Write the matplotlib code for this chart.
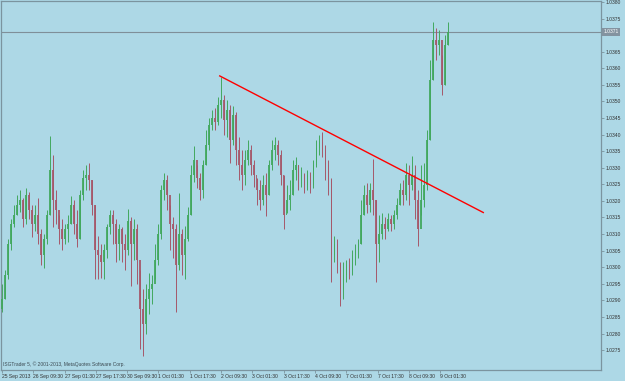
import numpy as np
import matplotlib
matplotlib.use("Agg")
import matplotlib.pyplot as plt
import matplotlib.transforms as mtransforms

# candles (close / high / low), one per bar
closes = [1.02903, 1.02978, 1.03069, 1.03129, 1.03159, 1.03189, 1.03204, 1.03144, 1.03219, 1.03174,
          1.03129, 1.03159, 1.03099, 1.03038, 1.03084, 1.03159, 1.03294, 1.03204, 1.03174, 1.03114,
          1.03084, 1.03114, 1.03129, 1.03189, 1.03129, 1.03084, 1.03219, 1.03270, 1.03279, 1.03264,
          1.03189, 1.03053, 1.03038, 1.03017, 1.03053, 1.03120, 1.03159, 1.03129, 1.03069, 1.03114,
          1.03069, 1.03053, 1.03138, 1.03069, 1.03114, 1.03023, 1.02873, 1.02828, 1.02903, 1.02933,
          1.02948, 1.03023, 1.03099, 1.03234, 1.03264, 1.03219, 1.03129, 1.03114, 1.03008, 1.03099,
          1.03038, 1.03084, 1.03159, 1.03279, 1.03324, 1.03270, 1.03234, 1.03309, 1.03370, 1.03430,
          1.03451, 1.03439, 1.03490, 1.03505, 1.03445, 1.03475, 1.03385, 1.03460, 1.03355, 1.03309,
          1.03279, 1.03324, 1.03355, 1.03309, 1.03279, 1.03234, 1.03204, 1.03249, 1.03219, 1.03309,
          1.03355, 1.03370, 1.03339, 1.03279, 1.03159, 1.03204, 1.03219, 1.03294, 1.03309, 1.03264,
          1.03279, 1.03249, 1.03279, 1.03249, 1.03309, 1.03361, 1.03379, 1.03355, 1.03309, 1.03264,
          1.03038, 1.03069, 1.03008, 1.02933, 1.02978, 1.03008, 1.02993, 1.03038, 1.03053, 1.03069,
          1.03159, 1.03219, 1.03189, 1.03234, 1.03204, 1.03069, 1.03099, 1.03129, 1.03114, 1.03144,
          1.03129, 1.03159, 1.03189, 1.03234, 1.03219, 1.03279, 1.03249, 1.03279, 1.03204, 1.03114,
          1.03204, 1.03249, 1.03385, 1.03565, 1.03686, 1.03671, 1.03686, 1.03550, 1.03671, 1.03710]
highs = [1.02948, 1.02993, 1.03084, 1.03144, 1.03189, 1.03219, 1.03234, 1.03210, 1.03240, 1.03228,
         1.03189, 1.03189, 1.03210, 1.03114, 1.03099, 1.03174, 1.03397, 1.03339, 1.03234, 1.03159,
         1.03144, 1.03129, 1.03159, 1.03216, 1.03204, 1.03174, 1.03234, 1.03294, 1.03309, 1.03315,
         1.03264, 1.03189, 1.03093, 1.03069, 1.03069, 1.03129, 1.03174, 1.03174, 1.03144, 1.03129,
         1.03120, 1.03099, 1.03177, 1.03150, 1.03144, 1.03129, 1.02993, 1.02933, 1.02948, 1.02984,
         1.02978, 1.03069, 1.03129, 1.03249, 1.03285, 1.03279, 1.03189, 1.03150, 1.03129, 1.03225,
         1.03114, 1.03123, 1.03183, 1.03309, 1.03367, 1.03309, 1.03285, 1.03324, 1.03415, 1.03451,
         1.03475, 1.03481, 1.03514, 1.03574, 1.03520, 1.03505, 1.03490, 1.03487, 1.03469, 1.03394,
         1.03355, 1.03355, 1.03385, 1.03370, 1.03324, 1.03270, 1.03264, 1.03279, 1.03285, 1.03324,
         1.03385, 1.03394, 1.03385, 1.03355, 1.03279, 1.03249, 1.03264, 1.03324, 1.03333, 1.03309,
         1.03303, 1.03285, 1.03294, 1.03288, 1.03324, 1.03385, 1.03400, 1.03409, 1.03370, 1.03324,
         1.03270, 1.03093, 1.03084, 1.03017, 1.03017, 1.03023, 1.03029, 1.03053, 1.03069, 1.03084,
         1.03204, 1.03249, 1.03255, 1.03255, 1.03327, 1.03204, 1.03159, 1.03165, 1.03150, 1.03165,
         1.03159, 1.03174, 1.03210, 1.03255, 1.03264, 1.03315, 1.03309, 1.03336, 1.03309, 1.03234,
         1.03309, 1.03315, 1.03415, 1.03625, 1.03740, 1.03722, 1.03716, 1.03640, 1.03701, 1.03740]
lows = [1.02864, 1.02903, 1.02963, 1.03053, 1.03120, 1.03159, 1.03168, 1.03120, 1.03129, 1.03144,
        1.03090, 1.03108, 1.03069, 1.03008, 1.02999, 1.03069, 1.03159, 1.03120, 1.03129, 1.03069,
        1.03053, 1.03069, 1.03075, 1.03129, 1.03099, 1.03060, 1.03084, 1.03204, 1.03234, 1.03234,
        1.03159, 1.02963, 1.02963, 1.02969, 1.02963, 1.03029, 1.03099, 1.03069, 1.03017, 1.03023,
        1.03017, 1.02993, 1.03038, 1.02942, 1.03023, 1.02948, 1.02752, 1.02731, 1.02798, 1.02858,
        1.02888, 1.02963, 1.03008, 1.03084, 1.03204, 1.03174, 1.03053, 1.03029, 1.02864, 1.02993,
        1.02978, 1.02963, 1.03078, 1.03159, 1.03258, 1.03240, 1.03204, 1.03210, 1.03309, 1.03355,
        1.03415, 1.03415, 1.03430, 1.03451, 1.03400, 1.03394, 1.03315, 1.03370, 1.03309, 1.03264,
        1.03234, 1.03249, 1.03309, 1.03279, 1.03243, 1.03189, 1.03174, 1.03189, 1.03153, 1.03219,
        1.03294, 1.03324, 1.03309, 1.03249, 1.03114, 1.03165, 1.03174, 1.03219, 1.03264, 1.03234,
        1.03243, 1.03225, 1.03234, 1.03225, 1.03240, 1.03303, 1.03339, 1.03333, 1.03264, 1.03219,
        1.02954, 1.03017, 1.02984, 1.02882, 1.02903, 1.02954, 1.02963, 1.02978, 1.03008, 1.03029,
        1.03069, 1.03159, 1.03165, 1.03168, 1.03159, 1.02954, 1.03017, 1.03084, 1.03084, 1.03108,
        1.03108, 1.03114, 1.03144, 1.03189, 1.03189, 1.03204, 1.03189, 1.03234, 1.03144, 1.03063,
        1.03159, 1.03183, 1.03234, 1.03385, 1.03565, 1.03625, 1.03640, 1.03520, 1.03550, 1.03671]
first_open = 1.02873
last_price = 1.0371

# trend line drawn on the chart (bar index, price)
trend_bars = [72.7, 160.7]
trend_prices = [1.03577, 1.03165]

time_labels = ["25 Sep 2013", "26 Sep 09:30", "27 Sep 01:30", "27 Sep 17:30", "30 Sep 09:30",
               "1 Oct 01:30", "1 Oct 17:30", "2 Oct 09:30", "3 Oct 01:30", "3 Oct 17:30",
               "4 Oct 09:30", "7 Oct 01:30", "7 Oct 17:30", "8 Oct 09:30", "9 Oct 01:30"]
price_ticks = [1.0275, 1.0280, 1.0285, 1.0290, 1.0295, 1.0300, 1.0305, 1.0310, 1.0315, 1.0320,
               1.0325, 1.0330, 1.0335, 1.0340, 1.0345, 1.0350, 1.0355, 1.0360, 1.0365, 1.0375, 1.0380]

bg = "#add8e6"
border = "#7b949f"
up_col = "#42a85e"
down_col = "#a5586a"

plt.rcParams["font.family"] = ["Liberation Sans", "DejaVu Sans"]

fig = plt.figure(figsize=(6.25, 3.81), dpi=100, facecolor=bg)
ax = fig.add_axes([1 / 625, 11 / 381, 600 / 625, 369 / 381], facecolor=bg)

closes = np.array(closes)
highs = np.array(highs)
lows = np.array(lows)
opens = np.concatenate([[first_open], closes[:-1]])
x = np.arange(len(closes))
colors = np.where(closes >= opens, up_col, down_col)

ax.vlines(x, lows, highs, colors=colors, linewidth=0.7, zorder=2)
body = np.maximum(np.abs(closes - opens), 0.00002)
ax.bar(x, body, bottom=np.minimum(opens, closes), width=0.6, color=colors,
       linewidth=0, alpha=0.9, zorder=3)

# current price line + label box
ax.axhline(last_price, color="#7f8f99", linewidth=0.8, zorder=1)
trans = mtransforms.blended_transform_factory(ax.transAxes, ax.transData)
ax.text(1.004, last_price, "%.4f" % last_price, transform=trans, fontsize=3.6,
        color="white", va="center", ha="left", clip_on=False,
        bbox=dict(boxstyle="square,pad=0.3", fc="#8393a0", ec="none"))

# trend line
ax.plot(trend_bars, trend_prices, color="#ff0000", linewidth=1.0, zorder=4)

ax.text(0.004, 0.008, "ISGTrader 5, \u00a9 2001-2013, MetaQuotes Software Corp.",
        transform=ax.transAxes, fontsize=3.5, color="#3c4a52", va="bottom", ha="left")

ax.set_xlim(-0.33, 200.0)
ax.set_ylim(1.02690, 1.03803)

ax.set_xticks(np.arange(len(time_labels)) * 10.45)
ax.set_xticklabels(time_labels, fontsize=3.6, color="#333333", ha="left")
ax.tick_params(axis="x", length=2.5, width=0.6, color=border, pad=0.5)

ax.yaxis.tick_right()
ax.set_yticks(price_ticks)
ax.set_yticklabels(["%.4f" % p for p in price_ticks], fontsize=3.6, color="#333333")
ax.tick_params(axis="y", length=2, width=0.6, color=border, pad=1)

for s in ax.spines.values():
    s.set_color(border)
    s.set_linewidth(0.9)

fig.savefig("out.png", dpi=100, facecolor=bg)
